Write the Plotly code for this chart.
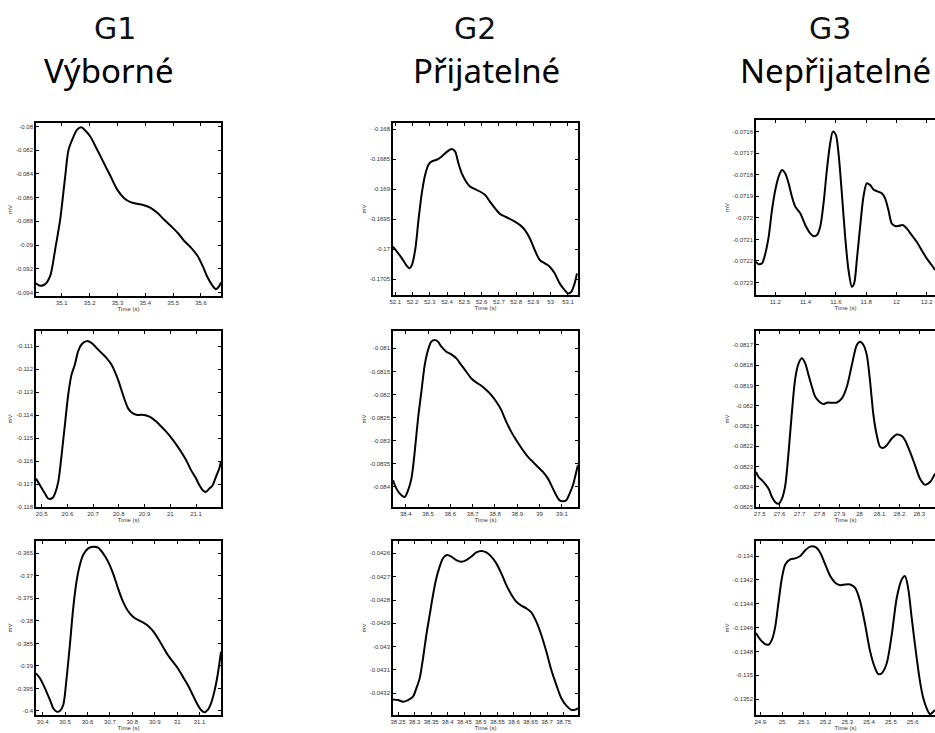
import plotly.graph_objects as go

# ---------------- data (time in s, voltage in mV) ----------------
# Row 1
t_g1_r1 = [35.007, 35.022, 35.040, 35.058, 35.076, 35.094, 35.112, 35.124, 35.142, 35.154, 35.170, 35.184,
           35.202, 35.227, 35.251, 35.275, 35.299, 35.323, 35.347, 35.371, 35.395, 35.419, 35.443, 35.467,
           35.492, 35.516, 35.540, 35.564, 35.588, 35.606, 35.624, 35.642, 35.654, 35.666, 35.672]
v_g1_r1 = [-0.09322, -0.09344, -0.0933, -0.0926, -0.09036, -0.08784, -0.0842, -0.08196, -0.08084, -0.08028,
           -0.08006, -0.08034, -0.08084, -0.08196, -0.08308, -0.0842, -0.08532, -0.08602, -0.08638, -0.08652,
           -0.08664, -0.08686, -0.08728, -0.08784, -0.0884, -0.08896, -0.08966, -0.09022, -0.09092, -0.09176,
           -0.09274, -0.09344, -0.09372, -0.09344, -0.09316]

t_g2_r1 = [52.0865, 52.1096, 52.1385, 52.1673, 52.1827, 52.1962, 52.2154, 52.2346, 52.2538, 52.2731, 52.2923,
           52.3115, 52.3404, 52.3692, 52.4019, 52.4269, 52.4462, 52.4654, 52.4846, 52.5096, 52.5327, 52.5615,
           52.5904, 52.6192, 52.6481, 52.6769, 52.7058, 52.7442, 52.7827, 52.8212, 52.85, 52.8788, 52.9077,
           52.9365, 52.9654, 52.9942, 53.0231, 53.0519, 53.0808, 53.1, 53.1192, 53.1385, 53.1519]
v_g2_r1 = [-0.169956, -0.170039, -0.17015, -0.170278, -0.170317, -0.170261, -0.170011, -0.169511, -0.169067,
           -0.168761, -0.168594, -0.168539, -0.168511, -0.168456, -0.168372, -0.168333, -0.168372, -0.168567,
           -0.168733, -0.168872, -0.168956, -0.169, -0.169039, -0.169094, -0.169206, -0.169317, -0.169411,
           -0.169467, -0.169522, -0.169594, -0.169678, -0.169817, -0.170011, -0.170178, -0.170233, -0.170289,
           -0.1704, -0.170567, -0.170678, -0.170733, -0.170706, -0.170567, -0.1704]

t_g3_r1 = [11.0725, 11.0901, 11.1121, 11.1341, 11.156, 11.178, 11.2, 11.222, 11.244, 11.2659, 11.2879, 11.3099,
           11.3319, 11.3648, 11.3978, 11.4308, 11.4527, 11.4747, 11.4967, 11.5187, 11.5407, 11.5626, 11.5802,
           11.6, 11.6176, 11.6396, 11.6615, 11.6835, 11.7055, 11.7209, 11.7385, 11.7604, 11.7824, 11.8044,
           11.8264, 11.8484, 11.8703, 11.9033, 11.9253, 11.9473, 11.9692, 11.9912, 12.0132, 12.0418, 12.0681,
           12.1011, 12.1341, 12.167, 12.2, 12.233, 12.255]
v_g3_r1 = [-0.072204, -0.072215, -0.072211, -0.072165, -0.072088, -0.071964, -0.071871, -0.071809, -0.071778,
           -0.071794, -0.07184, -0.071902, -0.071948, -0.071979, -0.072033, -0.072072, -0.072085, -0.07208,
           -0.072041, -0.071933, -0.071778, -0.071654, -0.0716, -0.071615, -0.071701, -0.071886, -0.072088,
           -0.072242, -0.07232, -0.072304, -0.072196, -0.072041, -0.071902, -0.07184, -0.071848, -0.071868,
           -0.071876, -0.071886, -0.07191, -0.071964, -0.072026, -0.072038, -0.072038, -0.072033, -0.072049,
           -0.07208, -0.072111, -0.07215, -0.072188, -0.072219, -0.072242]

# Row 2
t_g1_r2 = [20.478, 20.4935, 20.5129, 20.5258, 20.5426, 20.5516, 20.5645, 20.5774, 20.5903, 20.6032, 20.6161,
           20.629, 20.6419, 20.6548, 20.6742, 20.6935, 20.7129, 20.7323, 20.7516, 20.771, 20.7839, 20.7968,
           20.8097, 20.8226, 20.8355, 20.8484, 20.8677, 20.8871, 20.9065, 20.9258, 20.9452, 20.9645, 20.9839,
           21.0032, 21.0226, 21.0419, 21.0613, 21.0806, 21.1, 21.1129, 21.1258, 21.1387, 21.1516, 21.1645,
           21.1774, 21.1903, 21.1968]
v_g1_r2 = [-0.116759, -0.117051, -0.117415, -0.117634, -0.117605, -0.117415, -0.116905, -0.115739, -0.114426,
           -0.113114, -0.112239, -0.111802, -0.111219, -0.110927, -0.110781, -0.110854, -0.111073, -0.111292,
           -0.11151, -0.111802, -0.112094, -0.112458, -0.112895, -0.113333, -0.113697, -0.113872, -0.113989,
           -0.113989, -0.114018, -0.114106, -0.114281, -0.114499, -0.114718, -0.11498, -0.115272, -0.115593,
           -0.115957, -0.116395, -0.116759, -0.117051, -0.117269, -0.117342, -0.117197, -0.117051, -0.116686,
           -0.116322, -0.11603]

t_g2_r2 = [38.3433, 38.3582, 38.3806, 38.3955, 38.4104, 38.4254, 38.4403, 38.4552, 38.4701, 38.4851, 38.5,
           38.5149, 38.5299, 38.5448, 38.5597, 38.5821, 38.6045, 38.6269, 38.6493, 38.6716, 38.694, 38.7164,
           38.7388, 38.7612, 38.7836, 38.806, 38.8284, 38.8507, 38.8731, 38.8955, 38.9254, 38.9478, 38.9701,
           38.9925, 39.0149, 39.0373, 39.0597, 39.0746, 39.0896, 39.1045, 39.1194, 39.1343, 39.1493, 39.1642,
           39.1716]
v_g2_r2 = [-0.083864, -0.084045, -0.08419, -0.084226, -0.084081, -0.083828, -0.083248, -0.082523, -0.081943,
           -0.081363, -0.081036, -0.080855, -0.080819, -0.080855, -0.080964, -0.081073, -0.08113, -0.081218,
           -0.081363, -0.081508, -0.081653, -0.08174, -0.081812, -0.081906, -0.082015, -0.08216, -0.082341,
           -0.082595, -0.082813, -0.082994, -0.083211, -0.083356, -0.083465, -0.083574, -0.083683, -0.083828,
           -0.084045, -0.08419, -0.084299, -0.08432, -0.084299, -0.084154, -0.083973, -0.083683, -0.083538]

t_g3_r2 = [27.4817, 27.495, 27.52, 27.545, 27.5617, 27.5783, 27.595, 27.6117, 27.6283, 27.645, 27.6617, 27.6783,
           27.695, 27.7117, 27.7283, 27.745, 27.7617, 27.7783, 27.8033, 27.82, 27.8367, 27.8617, 27.8867,
           27.9117, 27.9367, 27.9617, 27.9867, 28.0033, 28.02, 28.0367, 28.0533, 28.07, 28.0867, 28.1033, 28.12,
           28.1367, 28.1617, 28.1867, 28.2117, 28.2283, 28.2533, 28.2783, 28.3033, 28.3283, 28.3533, 28.3783]
v_g3_r2 = [-0.082327, -0.082352, -0.082377, -0.08241, -0.082451, -0.082476, -0.082484, -0.082459, -0.082393,
           -0.082228, -0.08203, -0.081865, -0.081791, -0.081766, -0.081791, -0.081849, -0.081906, -0.081956,
           -0.081984, -0.081992, -0.081985, -0.081985, -0.081984, -0.081964, -0.081906, -0.081799, -0.0817,
           -0.081684, -0.0817, -0.08175, -0.081882, -0.082047, -0.082146, -0.082203, -0.082208, -0.082195,
           -0.082162, -0.082142, -0.082149, -0.08217, -0.082228, -0.082294, -0.08236, -0.08239, -0.082377,
           -0.082335]

# Row 3
t_g1_r3 = [30.3704, 30.3881, 30.4104, 30.4326, 30.4474, 30.4622, 30.477, 30.4919, 30.5067, 30.5215, 30.5363,
           30.5511, 30.5659, 30.5807, 30.603, 30.6252, 30.6474, 30.6696, 30.6919, 30.7141, 30.7363, 30.7585,
           30.7807, 30.803, 30.8252, 30.8474, 30.8696, 30.8919, 30.9141, 30.9363, 30.9585, 30.9807, 31.003,
           31.0252, 31.0474, 31.0696, 31.0919, 31.1067, 31.1215, 31.1363, 31.1511, 31.1659, 31.1807, 31.1956]
v_g1_r3 = [-0.39164, -0.39275, -0.39497, -0.39756, -0.39941, -0.40015, -0.4, -0.39867, -0.39275, -0.38535,
           -0.37721, -0.37129, -0.36759, -0.36537, -0.36389, -0.36352, -0.36374, -0.365, -0.36685, -0.36944,
           -0.37277, -0.37573, -0.3778, -0.37906, -0.3798, -0.38032, -0.38106, -0.38224, -0.38387, -0.38572,
           -0.38757, -0.38905, -0.39053, -0.39238, -0.39423, -0.39645, -0.39867, -0.39978, -0.4003, -0.39978,
           -0.3983, -0.39571, -0.39201, -0.38683]

t_g2_r3 = [38.2349, 38.25, 38.2651, 38.2802, 38.2953, 38.3053, 38.3154, 38.3255, 38.3355, 38.3456, 38.3556,
           38.3657, 38.3758, 38.3858, 38.3979, 38.411, 38.426, 38.4411, 38.4562, 38.4713, 38.4864, 38.5015,
           38.5166, 38.5317, 38.5468, 38.5619, 38.577, 38.592, 38.6071, 38.6222, 38.6373, 38.6524, 38.6675,
           38.6826, 38.6977, 38.7128, 38.7279, 38.743, 38.7581, 38.7731, 38.7832, 38.7933]
v_g2_r3 = [-0.043226, -0.043229, -0.043236, -0.043229, -0.043214, -0.043179, -0.043136, -0.04305, -0.04295,
           -0.042864, -0.042779, -0.042707, -0.042657, -0.042621, -0.042607, -0.042614, -0.042629, -0.042636,
           -0.042629, -0.042614, -0.042596, -0.04259, -0.042596, -0.042614, -0.042643, -0.042686, -0.042736,
           -0.042776, -0.042807, -0.042824, -0.042836, -0.042853, -0.042893, -0.04295, -0.043021, -0.0431,
           -0.043164, -0.043221, -0.043253, -0.043271, -0.043271, -0.043264]

t_g3_r3 = [24.8801, 24.9, 24.9229, 24.9382, 24.9535, 24.9688, 24.9841, 24.9994, 25.0147, 25.0376, 25.0606,
           25.0835, 25.1064, 25.1294, 25.1523, 25.1752, 25.1982, 25.2211, 25.244, 25.267, 25.2899, 25.3128,
           25.3358, 25.3587, 25.3817, 25.4046, 25.4275, 25.4428, 25.4581, 25.481, 25.504, 25.5269, 25.5498,
           25.5651, 25.5804, 25.5957, 25.6187, 25.6339, 25.6492, 25.6645, 25.6798, 25.6951, 25.7028]
v_g3_r3 = [-0.134645, -0.134701, -0.134738, -0.134743, -0.134701, -0.134589, -0.134379, -0.134182, -0.13407,
           -0.134028, -0.13402, -0.134, -0.133952, -0.133921, -0.133924, -0.133972, -0.13407, -0.134168,
           -0.134224, -0.134244, -0.134238, -0.134238, -0.134266, -0.134379, -0.134575, -0.134799, -0.13494,
           -0.13499, -0.134982, -0.134898, -0.134659, -0.134351, -0.134196, -0.134168, -0.134281, -0.134519,
           -0.134856, -0.135052, -0.135192, -0.135276, -0.135324, -0.135304, -0.13529]

# tick labels
xt_g1_r1 = ["35.1", "35.2", "35.3", "35.4", "35.5", "35.6"]
yt_g1_r1 = ["-0.094", "-0.092", "-0.09", "-0.088", "-0.086", "-0.084", "-0.082", "-0.08"]
xt_g2_r1 = ["52.1", "52.2", "52.3", "52.4", "52.5", "52.6", "52.7", "52.8", "52.9", "53", "53.1"]
yt_g2_r1 = ["-0.1705", "-0.17", "-0.1695", "-0.169", "-0.1685", "-0.168"]
xt_g3_r1 = ["11.2", "11.4", "11.6", "11.8", "12", "12.2"]
yt_g3_r1 = ["-0.0723", "-0.0722", "-0.0721", "-0.072", "-0.0719", "-0.0718", "-0.0717", "-0.0716"]

xt_g1_r2 = ["20.5", "20.6", "20.7", "20.8", "20.9", "21", "21.1"]
yt_g1_r2 = ["-0.118", "-0.117", "-0.116", "-0.115", "-0.114", "-0.113", "-0.112", "-0.111"]
xt_g2_r2 = ["38.4", "38.5", "38.6", "38.7", "38.8", "38.9", "39", "39.1"]
yt_g2_r2 = ["-0.084", "-0.0835", "-0.083", "-0.0825", "-0.082", "-0.0815", "-0.081"]
xt_g3_r2 = ["27.5", "27.6", "27.7", "27.8", "27.9", "28", "28.1", "28.2", "28.3"]
yt_g3_r2 = ["-0.0825", "-0.0824", "-0.0823", "-0.0822", "-0.0821", "-0.082", "-0.0819", "-0.0818", "-0.0817"]

xt_g1_r3 = ["30.4", "30.5", "30.6", "30.7", "30.8", "30.9", "31", "31.1"]
yt_g1_r3 = ["-0.4", "-0.395", "-0.39", "-0.385", "-0.38", "-0.375", "-0.37", "-0.365"]
xt_g2_r3 = ["38.25", "38.3", "38.35", "38.4", "38.45", "38.5", "38.55", "38.6", "38.65", "38.7", "38.75"]
yt_g2_r3 = ["-0.0432", "-0.0431", "-0.043", "-0.0429", "-0.0428", "-0.0427", "-0.0426"]
xt_g3_r3 = ["24.9", "25", "25.1", "25.2", "25.3", "25.4", "25.5", "25.6", "25.7"]
yt_g3_r3 = ["-0.1352", "-0.135", "-0.1348", "-0.1346", "-0.1344", "-0.1342", "-0.134"]

col_titles = ["G1", "G2", "G3"]
col_names = ["Výborné", "Přijatelné", "Nepřijatelné"]

# ---------------- layout ----------------
W, H = 935, 733

panels = [
    # (t, v, xticks, yticks, xrange, yrange, px-box (x0, x1, y0, y1), is_clipped)
    (t_g1_r1, v_g1_r1, xt_g1_r1, yt_g1_r1, [35.007, 35.672], [-0.0943, -0.0797], (36, 221, 123, 296), False),
    (t_g2_r1, v_g2_r1, xt_g2_r1, yt_g2_r1, [52.087, 53.158], [-0.17076, -0.1679], (393, 578, 123, 295), False),
    (t_g3_r1, v_g3_r1, xt_g3_r1, yt_g3_r1, [11.0725, 12.255], [-0.072358, -0.071546], (756, 935, 120, 295), True),
    (t_g1_r2, v_g1_r2, xt_g1_r2, yt_g1_r2, [20.478, 21.197], [-0.118, -0.11034], (36, 221, 331, 507), False),
    (t_g2_r2, v_g2_r2, xt_g2_r2, yt_g2_r2, [38.343, 39.172], [-0.084444, -0.080623], (393, 578, 331, 507), False),
    (t_g3_r2, v_g3_r2, xt_g3_r2, yt_g3_r2, [27.4817, 28.3783], [-0.0825, -0.081631], (756, 935, 331, 507), True),
    (t_g1_r3, v_g1_r3, xt_g1_r3, yt_g1_r3, [30.3704, 31.1956], [-0.4009, -0.36226], (36, 221, 541, 715), False),
    (t_g2_r3, v_g2_r3, xt_g2_r3, yt_g2_r3, [38.2349, 38.7933], [-0.043293, -0.042547], (393, 578, 541, 715), False),
    (t_g3_r3, v_g3_r3, xt_g3_r3, yt_g3_r3, [24.8801, 25.7028], [-0.135332, -0.133874], (756, 935, 541, 715), True),
]

fig = go.Figure()
layout = dict(
    width=W, height=H,
    margin=dict(l=0, r=0, t=0, b=0),
    paper_bgcolor="white", plot_bgcolor="white",
    showlegend=False,
    font=dict(family="Liberation Sans, Arial, sans-serif", color="#222"),
)

tickfont = dict(size=6, color="#333", family="Liberation Sans, Arial, sans-serif")
for i, (t, v, xt, yt, xr, yr, box, clipped) in enumerate(panels, start=1):
    sfx = "" if i == 1 else str(i)
    fig.add_trace(go.Scatter(
        x=t, y=v, mode="lines",
        line=dict(color="black", width=2, shape="spline", smoothing=0.8),
        xaxis="x" + sfx, yaxis="y" + sfx, hoverinfo="skip",
    ))
    x0, x1, y0, y1 = box
    common = dict(
        showgrid=False, zeroline=False, showline=True, linecolor="black", linewidth=1.5,
        ticks="inside", ticklen=3, tickwidth=1, tickcolor="black",
        tickfont=tickfont, automargin=False,
    )
    layout["xaxis" + sfx] = dict(
        common, domain=[x0 / W, x1 / W], range=xr, anchor="y" + sfx,
        tickmode="array", tickvals=[float(s) for s in xt], ticktext=xt,
        mirror="ticks",
        title=dict(text="Time (s)", font=dict(size=6, color="#333"), standoff=1),
    )
    layout["yaxis" + sfx] = dict(
        common, domain=[1 - y1 / H, 1 - y0 / H], range=yr, anchor="x" + sfx,
        tickmode="array", tickvals=[float(s) for s in yt], ticktext=yt,
        mirror=False if clipped else "ticks",
        title=dict(text="mV", font=dict(size=6, color="#333"), standoff=3),
    )

fig.update_layout(**layout)

title_x = [115, 475, 830]
name_x = [109, 486, 835]
for k in range(3):
    fig.add_annotation(x=title_x[k] / W, y=1 - 28 / H, xref="paper", yref="paper",
                       text=col_titles[k], showarrow=False, xanchor="center", yanchor="middle",
                       font=dict(family="DejaVu Sans", size=30, color="#111"))
    fig.add_annotation(x=name_x[k] / W, y=1 - 70 / H, xref="paper", yref="paper",
                       text=col_names[k], showarrow=False, xanchor="center", yanchor="middle",
                       font=dict(family="Noto Sans", size=33, color="#000"))

fig.write_html("out.html")
